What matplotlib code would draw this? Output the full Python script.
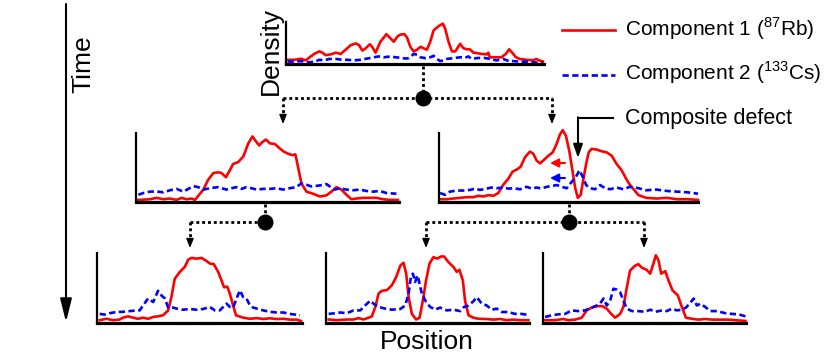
import matplotlib
matplotlib.use('Agg')
import matplotlib.pyplot as plt

# density profiles (position 0-100, density 0-100 of panel height)
top_rb_x = [0.6, 3.2, 5.8, 7.7, 9.6, 10.9, 12.9, 14.1, 15.4, 17.4, 19.3, 21.2, 23.1, 25.1, 27.0, 28.3, 29.6, 30.8, 32.5, 33.4,
            34.7, 36.6, 38.9, 40.5, 41.8, 43.1, 44.3, 45.9, 46.9, 48.2, 49.5, 50.8, 52.1, 53.3, 54.6, 55.9, 57.2, 59.1, 60.8, 61.7,
            63.0, 64.3, 65.6, 67.5, 68.8, 70.1, 71.3, 72.6, 73.9, 75.8, 77.8, 78.4, 79.0, 81.0, 83.5, 85.2, 86.5, 87.8, 89.1, 90.6,
            93.2, 95.8, 97.0, 98.3, 99.6]
top_rb_y = [10, 10, 12.5, 8.6, 18, 24, 30, 27, 21, 23, 27, 24, 34, 45, 49, 45, 32, 37, 47, 41,
            27, 53, 71, 61, 53, 65, 70, 71, 63, 41, 30, 34, 41, 37.5, 34, 53, 80, 90, 96, 84,
            53, 30, 30, 48, 37.5, 35, 35, 27, 26, 24, 23, 27, 16, 16, 16, 24, 35, 26, 16, 12,
            10, 9, 12, 8, 6]
top_cs_x = [0.6, 3.2, 5.8, 8.4, 10.9, 12.9, 14.8, 16.7, 19.3, 21.9, 23.8, 26.3, 28.9, 31.5, 34.1, 36.0, 37.9, 40.5, 42.4, 44.3,
            46.3, 47.6, 49.5, 50.8, 52.1, 54.0, 55.9, 57.2, 58.5, 59.8, 61.1, 62.3, 64.9, 67.5, 69.4, 70.7, 72.0, 73.9, 76.5, 79.0,
            81.6, 84.2, 86.8, 88.0, 90.6, 93.2, 95.8, 99.6]
top_cs_y = [6, 5.5, 7, 4, 5, 10, 8.6, 12, 12, 10, 10, 8.6, 10, 13, 16, 18, 16, 18, 16, 15,
            13, 14, 24, 22, 16, 14, 16, 19.5, 12, 7, 8.6, 12, 14, 16, 15, 18, 12, 14, 15, 12,
            8.6, 12, 6, 7, 5.5, 5.5, 4, 2]

midl_rb_x = [0.9, 5.3, 7.8, 10.4, 12.9, 15.4, 17.3, 19.2, 21.1, 22.4, 23.7, 25.6, 27.4, 29.4, 31.3, 32.5, 34.2, 35.4, 36.9, 38.9,
             40.8, 42.7, 44.3, 45.6, 46.8, 48.1, 49.4, 50.9, 52.8, 54.7, 56.2, 57.8, 59.4, 60.6, 61.6, 62.9, 64.8, 67.3, 69.9, 72.4,
             74.3, 76.2, 78.1, 80.0, 81.9, 83.8, 86.3, 88.9, 91.4, 93.9, 96.5, 99.6]
midl_rb_y = [3, 4, 6, 4, 5, 3, 6, 4, 5, 3, 9, 18, 32, 42, 43, 42, 36, 44, 55, 58,
             66, 85, 95, 88, 82, 87, 90.5, 85, 84, 77.5, 73, 70, 68, 69, 51, 27, 15, 12, 8, 9.6,
             15, 21.5, 18, 10.5, 4, 5, 6, 6, 6, 4, 3, 3]
midl_cs_x = [0.9, 2.8, 5.3, 7.8, 10.4, 12.9, 15.4, 18.0, 19.9, 21.8, 23.7, 25.6, 28.1, 31.0, 32.5, 34.4, 36.3, 38.2, 40.1, 42.0,
             43.9, 45.8, 48.4, 50.9, 53.4, 55.9, 58.5, 60.9, 62.9, 64.8, 66.7, 68.6, 70.5, 72.4, 73.7, 75.6, 77.5, 80.0, 82.5, 85.1,
             87.6, 90.1, 92.7, 95.2, 99.0]
midl_cs_y = [10.5, 13, 15, 15.3, 14, 17, 19, 15, 19, 23, 21.5, 18, 20, 21.5, 20, 18, 20, 21.5, 19, 21.5,
             20, 18, 19, 19, 20, 18, 20, 21.5, 27, 25, 22.5, 23.4, 24.4, 26, 22.5, 18, 20, 18, 17, 18,
             16, 15, 16, 13, 12]

midr_rb_x = [0.4, 3.0, 5.5, 8.1, 10.7, 13.3, 15.2, 17.1, 19.0, 21.0, 22.9, 24.8, 26.8, 28.4, 30.0, 31.5, 33.2, 35.1, 36.4, 37.7,
             39.0, 40.5, 42.2, 43.9, 45.4, 46.7, 47.8, 49.0, 50.3, 51.6, 52.6, 53.6, 54.7, 55.7, 56.8, 57.8, 58.9, 60.9, 62.8, 64.7,
             66.7, 68.6, 70.5, 72.5, 73.7, 77, 80, 84, 88, 92, 96, 100]
midr_rb_y = [4, 4, 5, 6, 7, 7, 9, 8, 10, 9, 13, 25, 34, 44, 47, 51, 65, 73, 70, 60,
             56, 61, 67, 72, 84, 98, 104, 96, 74, 44, 20, 6, 10.4, 32, 55, 72, 77, 76, 73.5, 72,
             67, 55, 46, 32, 25, 10, 6, 5, 6, 4, 4, 3]
midr_cs_x = [0.4, 2.3, 4.2, 6.8, 9.4, 12.0, 13.9, 15.8, 18.4, 20.3, 22.3, 24.8, 26.8, 28.7, 31.3, 33.8, 35.8, 37.7, 39.6, 41.6,
             43.5, 45.4, 47.4, 49.3, 51.2, 52.9, 54.2, 55.5, 56.8, 58.3, 60.2, 62.2, 64.1, 66.0, 68.6, 71.2, 73.7, 77, 80, 84,
             88, 92, 96, 100]
midr_cs_y = [13, 10.4, 15, 16.6, 16.6, 17.5, 19.4, 17.5, 19.4, 21, 20, 21, 19.4, 20, 18.5, 22, 19.4, 21, 19.4, 22,
             23, 24.6, 22, 20, 29, 36.5, 46, 36.5, 24.6, 20, 18.5, 24.6, 20, 18.5, 21, 18.5, 22, 20, 17, 18,
             16, 15, 14, 12]

botl_rb_x = [1.3, 4.6, 7.8, 11.1, 12.7, 15.1, 17.6, 20.0, 22.5, 24.9, 27.4, 29.8, 32.2, 34.7, 36.3, 37.9, 40.4, 42.8, 44.5, 46.1,
             48.5, 51.0, 53.4, 55.0, 57.0, 59.1, 60.7, 62.0, 63.5, 64.8, 66.4, 67.8, 71.3, 74.6, 77.9, 81.1, 84.4, 87.6, 90.9, 94.1,
             97.4, 99.5]
botl_rb_y = [4, 6, 4, 5, 7.6, 9.5, 7.6, 6, 7.6, 6, 8.6, 9.5, 11, 18, 37, 63, 73, 80, 90.5, 93,
             91.9, 93, 88.6, 85, 84, 73, 61, 51, 52, 42, 25, 11, 7.6, 6, 7, 5.7, 6.7, 5.7, 6, 4.8,
             4.8, 3]
botl_cs_x = [1.3, 3.7, 6.2, 9.4, 12.7, 16.0, 19.2, 20.8, 22.5, 24.9, 27.4, 29.8, 31.4, 33.1, 34.7, 37.1, 39.6, 42.0, 45.3, 48.5,
             51.8, 55.0, 57.5, 59.9, 61.9, 63.2, 64.8, 66.4, 68.1, 69.7, 71.3, 72.9, 74.6, 76.2, 78.7, 81.1, 84.4, 87.6, 90.9, 94.1,
             99.0]
botl_cs_y = [13, 12, 14, 15.7, 16, 17, 18, 18, 25, 35, 30, 46, 39.5, 35, 22, 22, 20, 19, 20, 19,
             20, 23, 18, 18, 24, 27.6, 23, 22, 35, 46.7, 37, 35, 25, 22, 20, 18, 16, 15, 15, 13,
             11]

botm_rb_x = [1.3, 5.4, 10.3, 13.6, 16.1, 18.5, 21.0, 22.6, 24.3, 25.9, 27.5, 30.0, 32.5, 34.6, 36.6, 38.2, 39.5, 40.7, 42.3, 44.4,
             46.1, 47.7, 49.3, 51.0, 52.9, 54.9, 56.6, 58.2, 60.3, 62.8, 64.4, 65.7, 67.4, 68.5, 70.2, 72.6, 75.1, 79.2, 82.5, 85.7,
             89.0, 92.3, 95.6, 99.7]
botm_rb_y = [5, 4, 5, 5, 7, 5, 7.6, 9.5, 23, 42, 46, 47, 54, 66, 82, 86, 70.5, 37, 13, 5,
             7.6, 32, 61, 85, 94, 92, 95, 95, 87, 80, 73, 76, 61, 32, 11, 7.6, 6, 5.7, 4.8, 5.7,
             4, 4.8, 4, 4]
botm_cs_x = [1.3, 4.6, 7.0, 10.3, 13.6, 16.9, 19.3, 21.8, 23.4, 25.9, 29.2, 32.5, 36.6, 39.0, 40.7, 41.8, 42.8, 43.9, 45.1, 46.1,
             47.2, 49.3, 51.3, 53.8, 56.2, 59.5, 62.8, 66.1, 68.0, 70.2, 72.6, 74.3, 76.7, 79.2, 81.6, 84.1, 86.6, 89.8, 93.1, 96.4,
             99.7]
botm_cs_y = [13, 14, 15, 14, 18, 18, 25, 32, 27.6, 23, 20.5, 19, 20, 25, 42, 66, 70.5, 58.6, 68, 56,
             42, 30, 23, 19, 22, 18, 19, 17, 23, 25, 31, 37, 27.6, 25, 19, 20.5, 15.7, 15.7, 13, 13,
             11.4]

botr_rb_x = [1.0, 5.9, 10.0, 12.5, 15.8, 19.1, 21.5, 24.0, 26.5, 29.3, 31.4, 33.6, 35.5, 38.0, 39.6, 41.3, 42.9, 45.4, 47.0, 48.7,
             51.1, 52.8, 54.4, 55.6, 56.9, 58.2, 60.2, 61.8, 63.8, 66.4, 68.4, 70.4, 73.4, 76.6, 79.9, 83.2, 86.5, 91.4, 94.7, 99.7]
botr_rb_y = [4, 4, 5.7, 4, 4.8, 7.6, 18, 22, 24, 24, 20.5, 13, 7.6, 13, 23, 51, 75, 82, 84, 79,
             76, 70.5, 85, 96.7, 89.5, 70.5, 74, 61, 46.7, 39.5, 23, 7.6, 6, 4.8, 5.7, 4.8, 4.8, 4.8, 4, 3]
botr_cs_x = [1.0, 4.3, 7.6, 10.9, 14.1, 17.4, 20.7, 24.0, 26.5, 28.1, 29.8, 31.4, 33.1, 34.7, 36.4, 38.0, 39.6, 41.3, 43.8, 47.0,
             50.3, 52.8, 55.3, 58.6, 61.0, 63.5, 65.9, 68.4, 70.4, 72.5, 74.2, 75.8, 77.5, 79.9, 82.4, 85.7, 89.8, 93.1, 96.4, 99.7]
botr_cs_y = [8.6, 11, 12.4, 13, 18, 17, 18, 22, 25, 27.6, 35, 25, 32, 49, 47.6, 44, 32, 20.5, 17, 17,
             16, 19, 16, 18, 17, 20.5, 18, 19, 22, 28.6, 35, 25, 27.6, 23, 17, 17, 14, 13, 12.4, 9.5]

plt.rcParams['font.family'] = ['Liberation Sans', 'DejaVu Sans']
plt.rcParams['mathtext.fontset'] = 'custom'
plt.rcParams['mathtext.rm'] = 'Liberation Sans'
plt.rcParams['lines.scale_dashes'] = False

W, H = 831, 353
fig = plt.figure(figsize=(W / 100, H / 100), dpi=100)
RED = '#ff0000'
BLUE = '#0000ff'
DASH = (4.5, 2.5)
LW = 1.9


def box(l, t, r, b):
    return [l / W, 1 - b / H, (r - l) / W, (b - t) / H]


def panel(rect, rb_x, rb_y, cs_x, cs_y):
    ax = fig.add_axes(box(*rect))
    ax.patch.set_visible(False)
    ax.plot(rb_x, rb_y, color=RED, lw=LW, clip_on=False)
    ax.plot(cs_x, cs_y, color=BLUE, lw=LW, dashes=DASH, clip_on=False)
    ax.set_xlim(0, 100)
    ax.set_ylim(0, 100)
    ax.spines['top'].set_visible(False)
    ax.spines['right'].set_visible(False)
    ax.spines['left'].set_linewidth(1.6)
    ax.spines['bottom'].set_linewidth(2.3)
    ax.set_xticks([])
    ax.set_yticks([])
    return ax


panel((286, 22, 544, 64), top_rb_x, top_rb_y, top_cs_x, top_cs_y)
panel((136, 133, 399, 202), midl_rb_x, midl_rb_y, midl_cs_x, midl_cs_y)
panel((439, 133, 698, 202), midr_rb_x, midr_rb_y, midr_cs_x, midr_cs_y)
panel((97, 253, 302, 323), botl_rb_x, botl_rb_y, botl_cs_x, botl_cs_y)
panel((326, 253, 529, 323), botm_rb_x, botm_rb_y, botm_cs_x, botm_cs_y)
panel((543, 253, 746, 323), botr_rb_x, botr_rb_y, botr_cs_x, botr_cs_y)

# overlay in pixel coordinates for the tree, labels and legend
ov = fig.add_axes([0, 0, 1, 1])
ov.set_xlim(0, W)
ov.set_ylim(H, 0)
ov.axis('off')
ov.patch.set_visible(False)

dot = dict(color='k', lw=2.0, linestyle=(0, (2.1, 2.1)), solid_capstyle='butt')


def head(x, y_tip, size=7):
    ov.annotate('', xy=(x, y_tip), xytext=(x, y_tip - size),
                arrowprops=dict(arrowstyle='-|>,head_length=0.55,head_width=0.22', color='k', lw=1,
                                mutation_scale=10, shrinkA=0, shrinkB=0))


def split(x0, y0, y1, xs, y_tip):
    ov.plot([x0, x0], [y0, y1], **dot)
    ov.plot([min(xs + [x0]), max(xs + [x0])], [y1, y1], **dot)
    for x in xs:
        ov.plot([x, x], [y1, y_tip - 6], **dot)
        head(x, y_tip)
    ov.plot(x0, y1, 'o', color='k', ms=10.5)


split(423, 66, 98, [283, 552], 124)
split(265, 204, 222, [190], 248)
split(569, 204, 222, [426, 644], 248)

# time arrow
ov.annotate('', xy=(66, 322), xytext=(66, 4),
            arrowprops=dict(arrowstyle='-|>,head_length=1.4,head_width=0.35', color='k', lw=1.5,
                            mutation_scale=10, shrinkA=0, shrinkB=0))
ov.text(83, 64, 'Time', rotation=90, ha='center', va='center', fontsize=19)
ov.text(271, 51, 'Density', rotation=90, ha='center', va='center', fontsize=19)
ov.text(427, 342, 'Position', ha='center', va='center', fontsize=19)

# legend
ov.plot([562, 615], [30, 30], color=RED, lw=LW)
ov.plot([562, 615], [75, 75], color=BLUE, lw=LW, dashes=DASH)
ov.text(625, 36, r'Component 1 ($^{87}$Rb)', va='baseline', fontsize=15)
ov.text(625, 80, r'Component 2 ($^{133}$Cs)', va='baseline', fontsize=15)
ov.text(625, 124, 'Composite defect', va='baseline', fontsize=15.5)

# composite defect pointer and drift arrows
ov.plot([614, 578], [118, 118], color='k', lw=1.5, solid_capstyle='butt')
ov.annotate('', xy=(578, 158), xytext=(578, 117.3),
            arrowprops=dict(arrowstyle='-|>,head_length=0.8,head_width=0.28', color='k', lw=1.5,
                            mutation_scale=10, shrinkA=0, shrinkB=0))
ov.annotate('', xy=(550, 163), xytext=(565, 163),
            arrowprops=dict(arrowstyle='-|>,head_length=0.5,head_width=0.25', color=RED, lw=1.5,
                            mutation_scale=10, shrinkA=0, shrinkB=0))
ov.annotate('', xy=(550, 178), xytext=(565, 178),
            arrowprops=dict(arrowstyle='-|>,head_length=0.5,head_width=0.25', color=BLUE, lw=1.5,
                            mutation_scale=10, shrinkA=0, shrinkB=0))

fig.savefig('out.png', dpi=100)
